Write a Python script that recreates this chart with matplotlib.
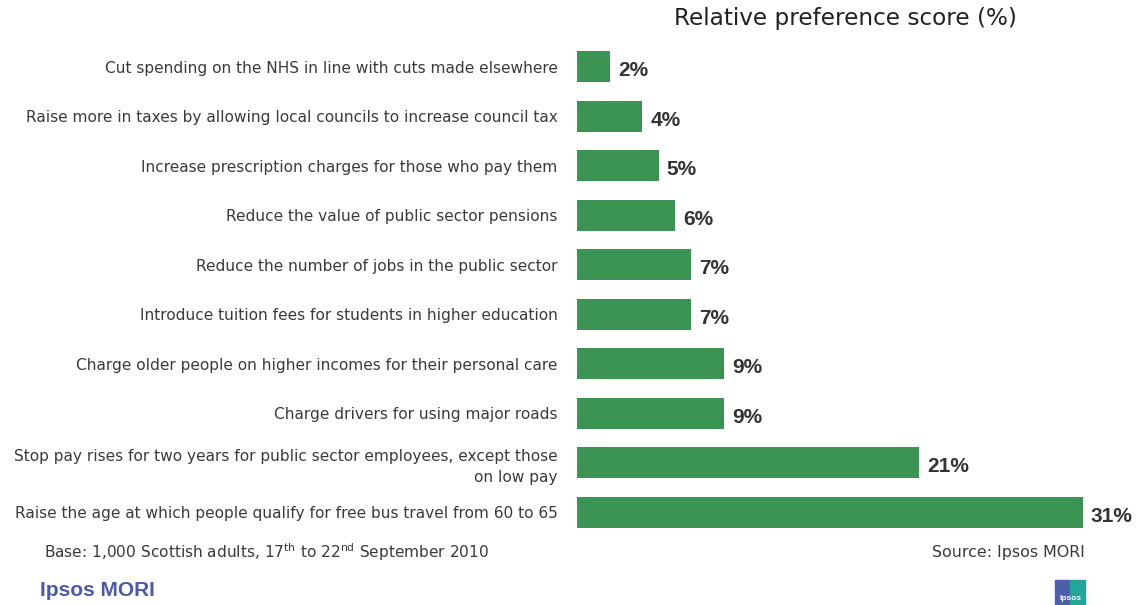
import matplotlib.pyplot as plt
from matplotlib.patches import Rectangle

plt.rcParams['font.family'] = ['DejaVu Sans']
plt.rcParams['mathtext.fontset'] = 'dejavusans'

# options, top to bottom
options = [
    "Cut spending on the NHS in line with cuts made elsewhere",
    "Raise more in taxes by allowing local councils to increase council tax",
    "Increase prescription charges for those who pay them",
    "Reduce the value of public sector pensions",
    "Reduce the number of jobs in the public sector",
    "Introduce tuition fees for students in higher education",
    "Charge older people on higher incomes for their personal care",
    "Charge drivers for using major roads",
    "Stop pay rises for two years for public sector employees, except those\non low pay",
    "Raise the age at which people qualify for free bus travel from 60 to 65",
]
scores = [2, 4, 5, 6, 7, 7, 9, 9, 21, 31]

W, H = 1138, 605
fig = plt.figure(figsize=(W / 100, H / 100), dpi=100)
ax = fig.add_axes([577 / W, 1 - 537 / H, 561 / W, 495 / H])

pos = list(range(len(options)))
ax.barh(pos, scores, height=0.63, color="#3b9453")
ax.set_xlim(0, 34.4)
ax.set_ylim(9.5, -0.5)

for y, v in zip(pos, scores):
    ax.text(v + 0.5, y + 0.08, f"{v}%", va="center", ha="left",
            fontsize=15, fontweight="bold", color="#333333",
            family="Liberation Sans")

ax.set_yticks(pos)
ax.set_yticklabels(options, fontsize=11.1, color="#3a3a3a", linespacing=1.45)
ax.tick_params(axis="y", length=0, pad=14)
ax.set_xticks([])
for s in ax.spines.values():
    s.set_visible(False)

fig.text(845 / W, 1 - 18 / H, "Relative preference score (%)", ha="center",
         va="center", fontsize=16.7, color="#222222")

fig.text(44 / W, 1 - 552 / H,
         r"Base: 1,000 Scottish adults, 17$^{\rm th}$ to 22$^{\rm nd}$ September 2010",
         ha="left", va="center", fontsize=11.1, color="#3a3a3a")
fig.text(1085 / W, 1 - 552 / H, "Source: Ipsos MORI", ha="right", va="center",
         fontsize=11.4, color="#3a3a3a")
fig.text(40 / W, 1 - 590 / H, "Ipsos MORI", ha="left", va="center",
         fontsize=15, fontweight="bold", color="#4a5aa6", family="Liberation Sans")

# small logo block in the corner
fig.patches.append(Rectangle((1055 / W, 0), 15 / W, 25 / H, transform=fig.transFigure,
                             color="#4d5eaa", zorder=5))
fig.patches.append(Rectangle((1070 / W, 0), 15 / W, 25 / H, transform=fig.transFigure,
                             color="#23a69a", zorder=5))
fig.text(1070 / W, 3 / H, "Ipsos", ha="center", va="bottom", fontsize=6,
         fontweight="bold", color="white", zorder=6, family="Liberation Sans")

fig.savefig("out.png", dpi=100)
